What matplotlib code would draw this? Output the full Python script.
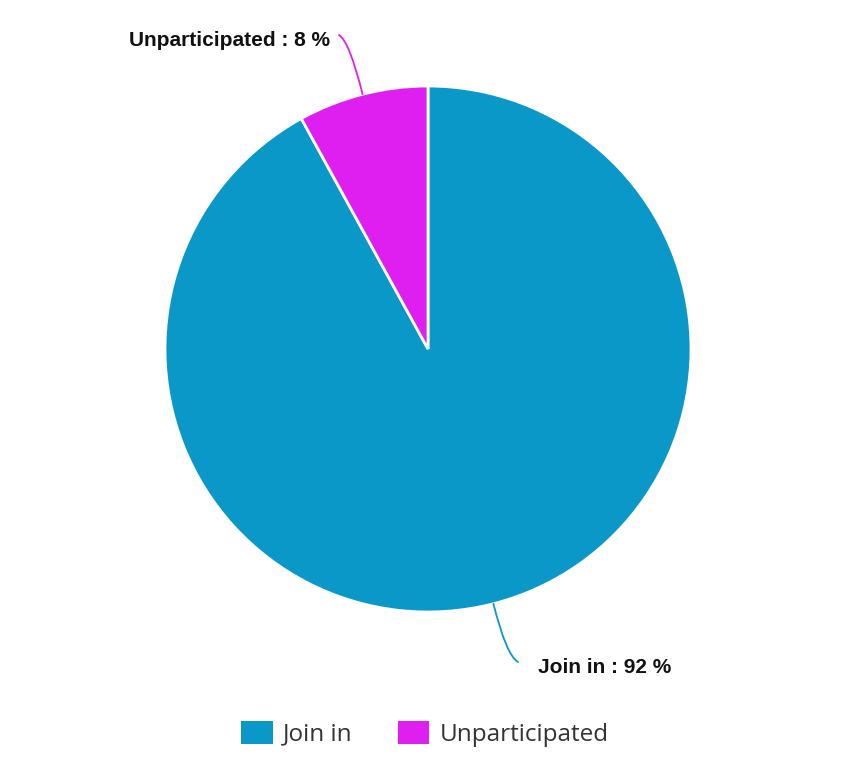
import numpy as np
import matplotlib.pyplot as plt
from matplotlib.patches import Patch

# data
labels = ['Join in', 'Unparticipated']
values = [92, 8]
colors = ['#0a98c9', '#df1ff0']

W, H = 861, 771
fig = plt.figure(figsize=(W / 100, H / 100), dpi=100)
ax = fig.add_axes([0, 0, 1, 1])

cx, cy, r = 428, H - 349, 263
wedges, _ = ax.pie(values, colors=colors, startangle=90, counterclock=False,
                   center=(cx, cy), radius=r, frame=True,
                   wedgeprops=dict(edgecolor='white', linewidth=2))
ax.set_xlim(0, W)
ax.set_ylim(0, H)
ax.set_aspect('equal')
ax.axis('off')

# label text position, leader end point, curve angles
label_pos = {
    'Join in': dict(text=(538, H - 673), ha='left', end=(518, H - 662), angA=150, angB=-76),
    'Unparticipated': dict(text=(330, H - 46), ha='right', end=(339, H - 35), angA=-30, angB=104),
}
for w, lab, val, col in zip(wedges, labels, values, colors):
    ang = np.deg2rad((w.theta1 + w.theta2) / 2)
    px, py = cx + r * np.cos(ang), cy + r * np.sin(ang)
    p = label_pos[lab]
    ax.annotate('', xy=(px, py), xytext=p['end'],
                arrowprops=dict(arrowstyle='-', color=col, lw=1.3,
                                shrinkA=0, shrinkB=0,
                                connectionstyle='angle3,angleA=%d,angleB=%d' %
                                (p['angA'], p['angB'])))
    ax.text(p['text'][0], p['text'][1], f'{lab} : {val} %', ha=p['ha'],
            va='baseline', fontsize=15, fontweight='bold',
            family='Liberation Sans', color='#111111')

handles = [Patch(facecolor=c, edgecolor='none') for c in colors]
fig.legend(handles, labels, loc='center', bbox_to_anchor=(425 / W, 1 - 734 / H),
           ncol=2, frameon=False, prop={'family': 'Open Sans', 'size': 17.5},
           labelcolor='#333333', handlelength=1.3, handleheight=1.05,
           handletextpad=0.42, columnspacing=1.85)

fig.savefig('out.png', dpi=100)
